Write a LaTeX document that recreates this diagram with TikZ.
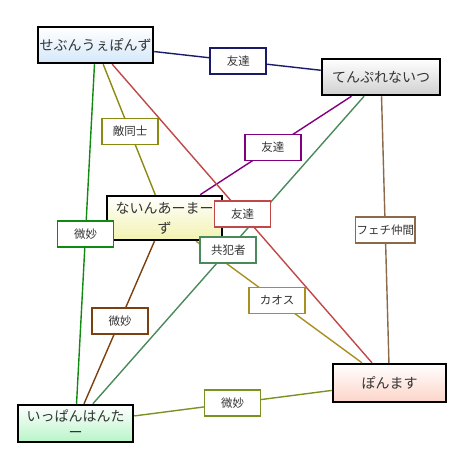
\documentclass[tikz,border=0pt]{standalone}
\usepackage{fontspec}
\setmainfont{Noto Sans CJK JP}
\usetikzlibrary{calc}
\definecolor{cNavy}{HTML}{1A1A6A}
\definecolor{cPurple}{HTML}{800080}
\definecolor{cSea}{HTML}{4A8A5A}
\definecolor{cTan}{HTML}{8A6A4A}
\definecolor{cOlive}{HTML}{8A8A10}
\definecolor{cGreen}{HTML}{108A10}
\definecolor{cRed}{HTML}{C04848}
\definecolor{cBrown}{HTML}{7A4010}
\definecolor{cGold}{HTML}{A89020}
\definecolor{cLime}{HTML}{7A9220}
\definecolor{fBlue}{HTML}{D4E8FA}
\definecolor{fGray}{HTML}{D0D0D0}
\definecolor{fYellow}{HTML}{F2F2B0}
\definecolor{fGreen}{HTML}{B8F5C8}
\definecolor{fPink}{HTML}{FCD4C8}
\tikzset{
  mainbox/.style={draw=black, line width=2.5pt, align=center, inner sep=1pt,
    font=\fontsize{14}{17}\selectfont, text=black!80, top color=white},
  lab/.style={draw, fill=white, line width=1.6pt, minimum width=56pt, minimum height=26pt,
    inner sep=1pt, font=\fontsize{11.5}{13}\selectfont, text=black!80},
  conn/.style={line width=1.4pt}
}
\begin{document}
\begin{tikzpicture}[x=1pt,y=-1pt]
\useasboundingbox (0,0) rectangle (466,468);
\node[mainbox, minimum width=115pt, minimum height=36pt, bottom color=fBlue] (n1) at (95.5,45) {せぶんうぇぽんず};
\node[mainbox, minimum width=118pt, minimum height=36pt, bottom color=fGray] (n2) at (381,77) {てんぷれないつ};
\node[mainbox, minimum width=115pt, minimum height=44pt, bottom color=fYellow, font=\fontsize{14}{20}\selectfont] (n3) at (164.5,218) {ないんあーまー\\ず};
\node[mainbox, minimum width=115pt, minimum height=37pt, bottom color=fGreen, font=\fontsize{14}{16}\selectfont] (n4) at (75.5,423.5) {いっぱんはんた\\ー};
\node[mainbox, minimum width=113pt, minimum height=38pt, bottom color=fPink] (n5) at (389.5,383) {ぽんます};

\draw[conn, cNavy] (n1) -- (n2);
\draw[conn, cPurple] (n2) -- (n3);
\draw[conn, cSea] (n2) -- (n4);
\draw[conn, cTan] (n2) -- (n5);
\draw[conn, cOlive] (n1) -- (n3);
\draw[conn, cGreen] (n1) -- (n4);
\draw[conn, cRed] (n1) -- (n5);
\draw[conn, cBrown] (n3) -- (n4);
\draw[conn, cGold] (n3) -- (n5);
\draw[conn, cLime] (n4) -- (n5);

\node[lab, draw=cNavy] (l12) at ($(n1)!.5!(n2)$) {友達};
\node[lab, draw=cPurple] (l23) at ($(n2)!.5!(n3)$) {友達};
\node[lab, draw=cSea] (l24) at ($(n2)!.5!(n4)$) {共犯者};
\node[lab, draw=cTan] (l25) at ($(n2)!.5!(n5)$) {フェチ仲間};
\node[lab, draw=cOlive] (l13) at ($(n1)!.5!(n3)$) {敵同士};
\node[lab, draw=cGreen] (l14) at ($(n1)!.5!(n4)$) {微妙};
\node[lab, draw=cRed] (l15) at ($(n1)!.5!(n5)$) {友達};
\node[lab, draw=cBrown] (l34) at ($(n3)!.5!(n4)$) {微妙};
\node[lab, draw=cGold] (l35) at ($(n3)!.5!(n5)$) {カオス};
\node[lab, draw=cLime] (l45) at ($(n4)!.5!(n5)$) {微妙};
\end{tikzpicture}
\end{document}
